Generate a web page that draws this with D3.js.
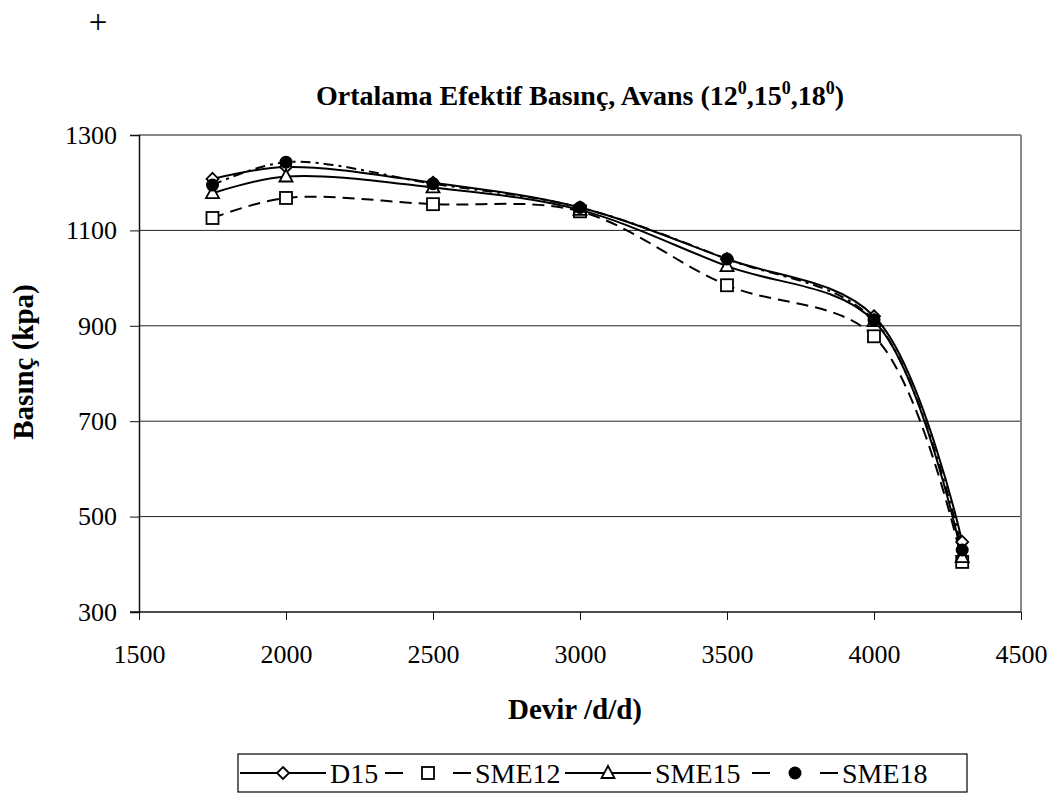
<!DOCTYPE html>
<html>
<head>
<meta charset="utf-8">
<script src="https://cdn.jsdelivr.net/npm/d3@7"></script>
<style>
  body { margin: 0; background: #fff; }
  svg { font-family: "Liberation Serif", "Times New Roman", serif; }
</style>
</head>
<body>
<div id="chart"></div>
<script>
// data
const rpm = [1750, 2000, 2500, 3000, 3500, 4000, 4300];
const d15 = [1208, 1233, 1200, 1148, 1040, 920, 447];
const sme12 = [1126, 1168, 1155, 1140, 985, 878, 405];
const sme15 = [1178, 1213, 1190, 1143, 1025, 910, 415];
const sme18 = [1195, 1243, 1198, 1148, 1040, 912, 430];
const seriesNames = ["D15", "SME12", "SME15", "SME18"];
const xTicks = [1500, 2000, 2500, 3000, 3500, 4000, 4500];
const yTicks = [300, 500, 700, 900, 1100, 1300];

const width = 1062, height = 793;
const margin = {top: 135, right: 40, bottom: 181, left: 139};

const svg = d3.select("#chart").append("svg")
    .attr("width", width)
    .attr("height", height);

const x = d3.scaleLinear().domain([1500, 4500]).range([margin.left, 1021]);
const y = d3.scaleLinear().domain([300, 1300]).range([612, margin.top]);

// stray plus sign in top left
svg.append("text").attr("x", 98).attr("y", 33).attr("text-anchor", "middle")
    .style("font-size", "33px").text("+");

// title
const title = svg.append("text")
    .attr("x", 580).attr("y", 105)
    .attr("text-anchor", "middle")
    .style("font-size", "28px").style("font-weight", "bold");
const supDy = 11;
title.append("tspan").text("Ortalama Efektif Basınç, Avans (12");
title.append("tspan").attr("dy", -supDy).style("font-size", "18px").text("0");
title.append("tspan").attr("dy", supDy).text(",15");
title.append("tspan").attr("dy", -supDy).style("font-size", "18px").text("0");
title.append("tspan").attr("dy", supDy).text(",18");
title.append("tspan").attr("dy", -supDy).style("font-size", "18px").text("0");
title.append("tspan").attr("dy", supDy).text(")");

// gridlines
svg.append("g").selectAll("line")
    .data(yTicks.filter(d => d > 300))
    .join("line")
    .attr("x1", x(1500)).attr("x2", x(4500))
    .attr("y1", d => y(d)).attr("y2", d => y(d))
    .attr("stroke", d => d === 1300 ? "#888" : "#222")
    .attr("stroke-width", d => d === 1300 ? 2 : 1);

// plot border right
svg.append("line")
    .attr("x1", x(4500)).attr("x2", x(4500))
    .attr("y1", y(1300)).attr("y2", y(300))
    .attr("stroke", "#888").attr("stroke-width", 2);

// axes
const xAxis = svg.append("g")
    .attr("transform", `translate(0,${y(300)})`)
    .call(d3.axisBottom(x).tickValues(xTicks).tickSize(8).tickPadding(25).tickFormat(d3.format("d")));
const yAxis = svg.append("g")
    .attr("transform", `translate(${x(1500)},0)`)
    .call(d3.axisLeft(y).tickValues(yTicks).tickSize(9).tickPadding(13).tickFormat(d3.format("d")));
[xAxis, yAxis].forEach(a => {
    a.select(".domain").attr("stroke", "#111").attr("stroke-width", 1.5);
    a.selectAll(".tick line").attr("stroke", "#111");
    a.selectAll("text").style("font-size", "26px").style("font-family", "Liberation Serif").attr("fill", "#000");
});
xAxis.select(".domain").attr("d", `M${x(1500) - 9},0H${x(4500)}`);

// axis titles
svg.append("text")
    .attr("x", 575).attr("y", 719)
    .attr("text-anchor", "middle")
    .style("font-size", "29px").style("font-weight", "bold")
    .text("Devir /d/d)");
svg.append("text")
    .attr("transform", `translate(33,362) rotate(-90)`)
    .attr("text-anchor", "middle")
    .style("font-size", "29px").style("font-weight", "bold")
    .text("Basınç (kpa)");

const series = [
    {name: seriesNames[0], values: d15, dash: null, marker: "diamond"},
    {name: seriesNames[1], values: sme12, dash: "12,7", marker: "square"},
    {name: seriesNames[2], values: sme15, dash: null, marker: "triangle"},
    {name: seriesNames[3], values: sme18, dash: "10,5,3,5", marker: "circle"}
];

const line = d3.line()
    .x(d => x(d[0]))
    .y(d => y(d[1]))
    .curve(d3.curveCatmullRom.alpha(0.5));

function drawMarker(g, type, cx, cy) {
    if (type === "diamond") {
        g.append("path")
            .attr("d", `M${cx},${cy - 6}L${cx + 6},${cy}L${cx},${cy + 6}L${cx - 6},${cy}Z`)
            .attr("fill", "#fff").attr("stroke", "#000").attr("stroke-width", 1.8);
    } else if (type === "square") {
        g.append("rect")
            .attr("x", cx - 6).attr("y", cy - 6).attr("width", 12).attr("height", 12)
            .attr("fill", "#fff").attr("stroke", "#000").attr("stroke-width", 1.8);
    } else if (type === "triangle") {
        g.append("path")
            .attr("d", `M${cx},${cy - 7}L${cx + 6.5},${cy + 5}L${cx - 6.5},${cy + 5}Z`)
            .attr("fill", "#fff").attr("stroke", "#000").attr("stroke-width", 1.8);
    } else {
        g.append("circle")
            .attr("cx", cx).attr("cy", cy).attr("r", 6.5)
            .attr("fill", "#000");
    }
}

const plot = svg.append("g");
series.forEach(s => {
    const pts = rpm.map((r, i) => [r, s.values[i]]);
    plot.append("path")
        .datum(pts)
        .attr("d", line)
        .attr("fill", "none")
        .attr("stroke", "#000")
        .attr("stroke-width", 2)
        .attr("stroke-dasharray", s.dash);
});
series.forEach(s => {
    const g = plot.append("g");
    rpm.forEach((r, i) => drawMarker(g, s.marker, x(r), y(s.values[i])));
});

// legend
const legend = svg.append("g");
legend.append("rect")
    .attr("x", 238).attr("y", 754).attr("width", 729).attr("height", 38)
    .attr("fill", "#fff").attr("stroke", "#000").attr("stroke-width", 1.2);
const legX = [240, 385, 565, 752];
const legLen = 86;
series.forEach((s, i) => {
    const lx = legX[i], ly = 773;
    const segs = s.dash ? [[lx, lx + 18], [lx + legLen - 18, lx + legLen]] : [[lx, lx + legLen]];
    segs.forEach(sg => {
        legend.append("line")
            .attr("x1", sg[0]).attr("x2", sg[1])
            .attr("y1", ly).attr("y2", ly)
            .attr("stroke", "#000").attr("stroke-width", 2);
    });
    drawMarker(legend.append("g"), s.marker, lx + legLen / 2, ly);
    legend.append("text")
        .attr("x", lx + 90).attr("y", ly + 10)
        .style("font-size", "28px")
        .text(s.name);
});
</script>
</body>
</html>
